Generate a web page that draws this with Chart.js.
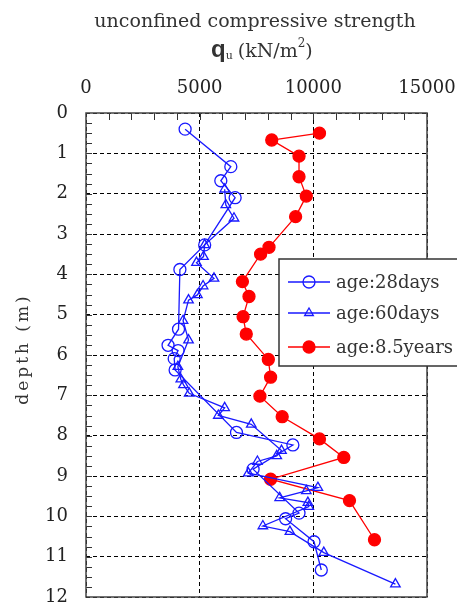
<!DOCTYPE html>
<html>
<head>
<meta charset="utf-8">
<script src="https://cdn.jsdelivr.net/npm/chart.js@4"></script>
<style>
	body { margin: 0; background: #fff; }
	#wrap { width: 457px; height: 612px; }
</style>
</head>
<body>
<div id="wrap"><canvas id="qChart" width="457" height="612"></canvas></div>
<script>
// values: strength in kN/m2, depth in m
const seriesLabels = ["age:28days", "age:60days", "age:8.5years"];
const xTicks = [0, 5000, 10000, 15000];
const yTicks = [0, 1, 2, 3, 4, 5, 6, 7, 8, 9, 10, 11, 12];

const q28 = [4360, 6370, 5930, 6560, 5220, 4130, 4070, 3610, 4050, 3880, 3920, 6620, 9100, 7350, 9370, 8780, 10030, 10350];
const d28 = [0.40, 1.33, 1.68, 2.10, 3.27, 3.88, 5.36, 5.76, 5.89, 6.09, 6.37, 7.92, 8.23, 8.83, 9.92, 10.06, 10.63, 11.33];

const q60 = [6100, 6150, 6510, 5220, 5170, 4860, 5630, 5150, 4900, 4510, 4270, 4510, 4040, 4170, 4290, 4540, 6100, 5820, 7270, 8600, 8390, 7540, 7140, 10200, 9690, 8520, 9760, 9800, 7780, 8970, 10460, 13610];
const d60 = [1.89, 2.28, 2.61, 3.27, 3.56, 3.71, 4.10, 4.29, 4.51, 4.64, 5.15, 5.63, 6.29, 6.60, 6.74, 6.95, 7.31, 7.50, 7.72, 8.37, 8.50, 8.64, 8.93, 9.29, 9.37, 9.54, 9.66, 9.76, 10.24, 10.38, 10.90, 11.68];

const q85 = [10270, 8170, 9370, 9370, 9690, 9220, 8050, 7680, 6880, 7170, 6910, 7050, 8020, 8120, 7650, 8630, 10270, 11340, 8120, 11590, 12690];
const d85 = [0.50, 0.67, 1.07, 1.58, 2.06, 2.57, 3.33, 3.50, 4.18, 4.55, 5.05, 5.48, 6.11, 6.55, 7.02, 7.53, 8.08, 8.54, 9.08, 9.61, 10.58];

const serif = "'DejaVu Serif', serif";
const blue = "rgb(25,25,255)";
const red = "rgb(255,0,0)";

function toPoints(qs, ds) {
	const pts = [];
	for (let i = 0; i < qs.length; i++) {
		pts.push({ x: qs[i], y: ds[i] });
	}
	return pts;
}

// frame, inward minor ticks, titles and the boxed legend
const decorations = {
	id: "decorations",
	afterDraw(chart) {
		const ctx = chart.ctx;
		const area = chart.chartArea;
		const xs = chart.scales.x;
		const ys = chart.scales.y;
		ctx.save();
		ctx.strokeStyle = "#333";
		ctx.lineWidth = 1;
		for (let v = 1000; v < 15000; v += 1000) {
			const px = Math.round(xs.getPixelForValue(v)) + 0.5;
			ctx.beginPath();
			ctx.moveTo(px, area.top);
			ctx.lineTo(px, area.top + 7);
			ctx.stroke();
		}
		for (let d = 0.25; d < 12; d += 0.25) {
			const py = Math.round(ys.getPixelForValue(d)) + 0.5;
			ctx.beginPath();
			ctx.moveTo(area.left, py);
			ctx.lineTo(area.left + 6, py);
			ctx.stroke();
		}
		ctx.strokeStyle = "#444";
		ctx.lineWidth = 1.5;
		ctx.strokeRect(area.left, area.top, area.right - area.left, area.bottom - area.top);

		// title
		ctx.fillStyle = "#333";
		ctx.textBaseline = "alphabetic";
		ctx.textAlign = "center";
		ctx.font = "19px " + serif;
		ctx.fillText("unconfined compressive strength", 255, 27);
		ctx.textAlign = "left";
		let x = 211;
		ctx.font = "bold 24px 'Liberation Sans', sans-serif";
		ctx.fillText("q", x, 57);
		x += ctx.measureText("q").width;
		ctx.font = "11px " + serif;
		ctx.fillText("u", x, 59);
		x += ctx.measureText("u").width + 5;
		ctx.font = "19px " + serif;
		ctx.fillText("(kN/m", x, 57);
		x += ctx.measureText("(kN/m").width;
		ctx.font = "12px " + serif;
		ctx.fillText("2", x, 47);
		x += ctx.measureText("2").width;
		ctx.font = "19px " + serif;
		ctx.fillText(")", x, 57);

		// y axis title
		ctx.save();
		ctx.translate(24, 349);
		ctx.rotate(-Math.PI / 2);
		ctx.textAlign = "center";
		ctx.textBaseline = "middle";
		ctx.font = "17px " + serif;
		ctx.letterSpacing = "3px";
		ctx.fillStyle = "#333";
		ctx.fillText("depth (m)", 0, 0);
		ctx.restore();

		// legend
		ctx.fillStyle = "#fff";
		ctx.fillRect(279, 259, 190, 107);
		ctx.strokeStyle = "#333";
		ctx.lineWidth = 1.5;
		ctx.strokeRect(279, 259, 190, 107);
		const rows = [282, 313, 347];
		chart.data.datasets.forEach((ds, i) => {
			const y = rows[i];
			ctx.strokeStyle = ds.borderColor;
			ctx.lineWidth = 1.3;
			ctx.beginPath();
			ctx.moveTo(288, y);
			ctx.lineTo(330, y);
			ctx.stroke();
			ctx.fillStyle = ds.pointBackgroundColor;
			ctx.strokeStyle = ds.pointBorderColor;
			Chart.helpers.drawPoint(ctx, {
				pointStyle: ds.pointStyle,
				radius: ds.legendRadius,
				borderWidth: 1.3
			}, 309, y);
			ctx.fillStyle = "#333";
			ctx.font = "18px " + serif;
			ctx.textAlign = "left";
			ctx.textBaseline = "middle";
			ctx.fillText(ds.label, 336, y + 1);
		});
		ctx.restore();
	}
};

function makeSet(label, qs, ds, color, style, filled, radius, legendRadius) {
	return {
		label: label,
		data: toPoints(qs, ds),
		showLine: true,
		borderColor: color,
		borderWidth: 1.3,
		pointStyle: style,
		pointRadius: radius,
		pointHoverRadius: radius,
		pointBorderWidth: 1.3,
		pointBorderColor: color,
		pointBackgroundColor: filled ? color : "rgba(0,0,0,0)",
		backgroundColor: filled ? color : "rgba(0,0,0,0)",
		legendRadius: legendRadius
	};
}

function generateChart() {
	const ctx = document.getElementById("qChart").getContext("2d");
	new Chart(ctx, {
		type: "scatter",
		data: {
			datasets: [
				makeSet(seriesLabels[0], q28, d28, blue, "circle", false, 6, 6),
				makeSet(seriesLabels[1], q60, d60, blue, "triangle", false, 5.5, 5),
				makeSet(seriesLabels[2], q85, d85, red, "circle", true, 6, 6)
			]
		},
		options: {
			responsive: false,
			animation: false,
			layout: { padding: { top: 0, left: 0, right: 30, bottom: 15 } },
			plugins: {
				legend: { display: false },
				tooltip: { enabled: false }
			},
			scales: {
				x: {
					type: "linear",
					position: "top",
					min: 0,
					max: 15000,
					afterFit(scale) {
						scale.height = 113;
						scale.paddingLeft = 0;
						scale.paddingRight = 0;
					},
					afterBuildTicks(scale) { scale.ticks = xTicks.map(v => ({ value: v })); },
					ticks: {
						color: "#222",
						font: { family: serif, size: 18 },
						padding: 14,
						maxRotation: 0,
						callback: value => String(value)
					},
					grid: {
						drawTicks: false,
						color: "#000",
						lineWidth: 1
					},
					border: { display: false, dash: [4, 3] }
				},
				y: {
					type: "linear",
					reverse: true,
					min: 0,
					max: 12,
					afterFit(scale) {
						scale.width = 86;
						scale.paddingTop = 0;
						scale.paddingBottom = 0;
					},
					afterBuildTicks(scale) { scale.ticks = yTicks.map(v => ({ value: v })); },
					ticks: {
						color: "#222",
						font: { family: serif, size: 18 },
						padding: 18,
						callback: value => String(value)
					},
					grid: {
						drawTicks: false,
						color: "#000",
						lineWidth: 1
					},
					border: { display: false, dash: [4, 3] }
				}
			}
		},
		plugins: [decorations]
	});
}

window.onload = () => {
	generateChart();
};
</script>
</body>
</html>
